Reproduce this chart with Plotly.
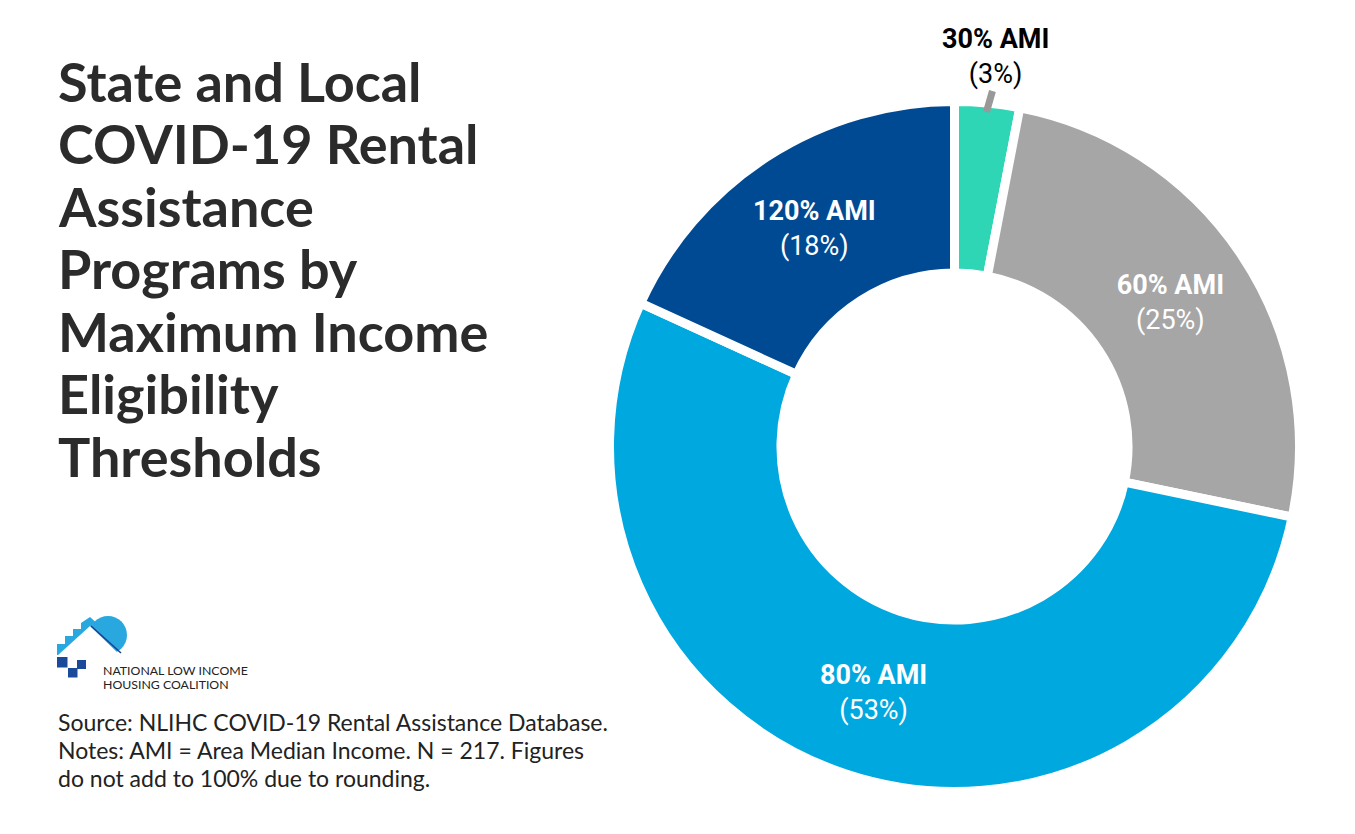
import math
import plotly.graph_objects as go

# ---- data ----
categories = ["30% AMI", "60% AMI", "80% AMI", "120% AMI"]
shares = [3, 25, 53, 18]
colors = ["#2ED6B6", "#A6A6A6", "#00A8E0", "#004A94"]
title_lines = ["State and Local", "COVID-19 Rental", "Assistance", "Programs by",
               "Maximum Income", "Eligibility", "Thresholds"]
source_lines = ["Source: NLIHC COVID-19 Rental Assistance Database.",
                "Notes: AMI = Area Median Income. N = 217. Figures",
                "do not add to 100% due to rounding."]
org_lines = ["NATIONAL LOW INCOME", "HOUSING COALITION"]

W, H = 1355, 834
cx, cy, R = 954.5, 446.5, 345.0   # pixel geometry of the donut
LBL_FONT = "Roboto, Arial, sans-serif"

fig = go.Figure()
fig.add_trace(go.Pie(
    labels=categories, values=shares, sort=False, direction="clockwise", rotation=0,
    hole=0.503,
    marker=dict(colors=colors, line=dict(color="white", width=9)),
    texttemplate="<b>%{label}</b><br>(%{value}%)",
    textposition=["none", "inside", "inside", "inside"],
    insidetextorientation="horizontal",
    textfont=dict(family=LBL_FONT, size=27, color="white"),
    showlegend=False, hoverinfo="label+value",
    domain=dict(x=[(cx - R) / W, (cx + R) / W], y=[(H - cy - R) / H, (H - cy + R) / H]),
))

ann = []
for i, t in enumerate(title_lines):
    ann.append(dict(x=56 / W, y=1 - (81 + i * 62.5) / H, xref="paper", yref="paper",
                    xanchor="left", yanchor="middle", showarrow=False, text=t,
                    font=dict(family="Lato", size=54, color="#2B2B2B", weight=700)))
for i, t in enumerate(source_lines):
    ann.append(dict(x=56 / W, y=1 - (722 + i * 28) / H, xref="paper", yref="paper",
                    xanchor="left", yanchor="middle", showarrow=False, text=t,
                    font=dict(family="Lato", size=23, color="#222222")))
for i, t in enumerate(org_lines):
    ann.append(dict(x=101 / W, y=1 - (670 + i * 14.5) / H, xref="paper", yref="paper",
                    xanchor="left", yanchor="middle", showarrow=False, text=t,
                    font=dict(family="Lato", size=12.3, color="#222222")))

# outside label for the small first slice, placed along its mid-angle
total = sum(shares)
theta = math.radians(shares[0] / total * 360 / 2)
lx, ly = cx + 392 * math.sin(theta), cy - 392 * math.cos(theta)
ann.append(dict(x=(lx + 4) / W, y=1 - ly / H, xref="paper", yref="paper",
                xanchor="center", yanchor="middle", showarrow=False,
                text=f"<b>{categories[0]}</b><br>({shares[0]}%)",
                font=dict(family=LBL_FONT, size=27, color="#000000")))

def px(x, y):
    return x / W, 1 - y / H

shapes = []
sx, sy = cx + 336 * math.sin(theta), cy - 336 * math.cos(theta)
shapes.append(dict(type="line", xref="paper", yref="paper",
                   x0=sx / W, y0=1 - sy / H, x1=(sx + 6) / W, y1=1 - (sy - 21) / H,
                   line=dict(color="#999999", width=7)))
# logo
lb = "#29A8E0"
shapes.append(dict(type="circle", xref="paper", yref="paper",
                   x0=px(89, 0)[0], x1=px(127, 0)[0], y0=px(0, 654)[1], y1=px(0, 616)[1],
                   fillcolor=lb, line=dict(width=0)))
def path(pts):
    return "M " + " L ".join(f"{x / W},{1 - y / H}" for x, y in pts) + " Z"
shapes.append(dict(type="path", xref="paper", yref="paper",
                   path=path([(57, 655), (57, 644), (65, 644), (65, 636), (73, 636), (73, 629),
                              (81, 629), (81, 623), (90, 617), (100, 626), (100, 655)]),
                   fillcolor=lb, line=dict(width=0)))
shapes.append(dict(type="path", xref="paper", yref="paper",
                   path=path([(57, 656), (90, 626), (121, 656)]),
                   fillcolor="white", line=dict(width=0)))
shapes.append(dict(type="line", xref="paper", yref="paper",
                   x0=px(91, 0)[0], y0=px(0, 626)[1], x1=px(121, 0)[0], y1=px(0, 653)[1],
                   line=dict(color="#1B3F8F", width=1.5)))
for (x0, y0, s) in [(57, 657, 10.5), (68, 668, 9.5), (77, 660, 9)]:
    shapes.append(dict(type="rect", xref="paper", yref="paper",
                       x0=x0 / W, x1=(x0 + s) / W, y0=1 - (y0 + s) / H, y1=1 - y0 / H,
                       fillcolor="#1B4A9B", line=dict(width=0)))

fig.update_layout(width=W, height=H, margin=dict(l=0, r=0, t=0, b=0),
                  paper_bgcolor="white", plot_bgcolor="white",
                  annotations=ann, shapes=shapes)
fig.write_html("out.html")
